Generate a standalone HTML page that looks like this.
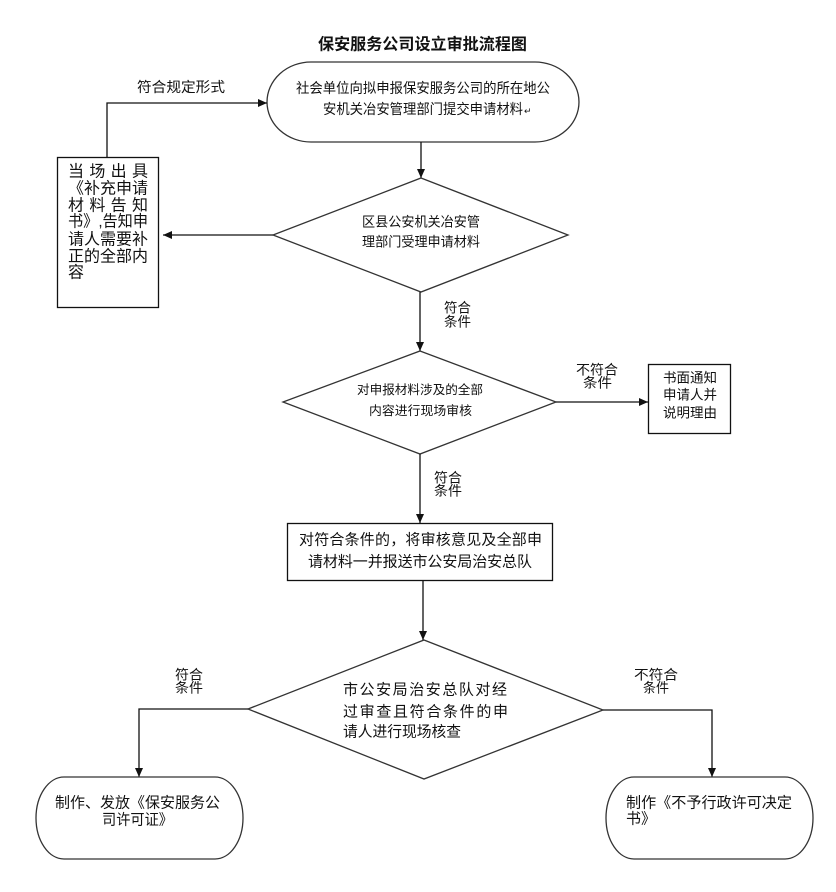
<!DOCTYPE html>
<html><head><meta charset="utf-8"><style>
html,body{margin:0;padding:0;background:#fff;}
svg{display:block;}
text{font-family:"Liberation Sans","Noto Sans CJK SC","WenQuanYi Zen Hei",sans-serif;fill:#111;dominant-baseline:central;}
</style></head><body>
<svg width="836" height="892" viewBox="0 0 836 892" xmlns="http://www.w3.org/2000/svg">
<defs>
<marker id="ar" markerWidth="10" markerHeight="10" refX="9" refY="5" orient="auto" markerUnits="userSpaceOnUse">
<path d="M0,1 L9,5 L0,9 Z" fill="#111"/>
</marker>
</defs>
<rect width="836" height="892" fill="#fff"/>

<!-- Title -->
<text x="318" y="45" font-size="16" font-weight="bold" textLength="209" lengthAdjust="spacingAndGlyphs">保安服务公司设立审批流程图</text>

<!-- Top stadium -->
<path d="M311,62 L535,62 A44,40 0 0 1 535,142 L311,142 A44,40 0 0 1 311,62 Z" fill="none" stroke="#333" stroke-width="1.3"/>
<text x="296" y="88" font-size="14" textLength="254" lengthAdjust="spacingAndGlyphs">社会单位向拟申报保安服务公司的所在地公</text>
<text x="323" y="109" font-size="14" textLength="200" lengthAdjust="spacingAndGlyphs">安机关冶安管理部门提交申请材料</text>
<text x="524" y="111" font-size="9" fill="#999">↵</text>

<!-- arrow top box -> diamond1 -->
<line x1="421" y1="142" x2="421" y2="178" stroke="#111" stroke-width="1.3" marker-end="url(#ar)"/>

<!-- Diamond 1 -->
<polygon points="421,178 568,235 421,292 273,235" fill="none" stroke="#333" stroke-width="1.3"/>
<text x="362" y="222" font-size="13.5" textLength="118" lengthAdjust="spacingAndGlyphs">区县公安机关冶安管</text>
<text x="362" y="242" font-size="13.5" textLength="118" lengthAdjust="spacingAndGlyphs">理部门受理申请材料</text>

<!-- arrow diamond1 -> left box -->
<line x1="273" y1="235" x2="163" y2="235" stroke="#111" stroke-width="1.3" marker-end="url(#ar)"/>

<!-- Left box -->
<rect x="57.5" y="157.5" width="101" height="150" fill="none" stroke="#111" stroke-width="1.3"/>
<text x="68" y="172" font-size="16" textLength="80" lengthAdjust="spacing">当场出具</text>
<text x="68" y="189" font-size="16" textLength="80" lengthAdjust="spacing">《补充申请</text>
<text x="68" y="206" font-size="16" textLength="80" lengthAdjust="spacing">材料告知</text>
<text x="68" y="222" font-size="16" textLength="80" lengthAdjust="spacingAndGlyphs">书》,告知申</text>
<text x="68" y="240" font-size="16" textLength="80" lengthAdjust="spacing">请人需要补</text>
<text x="68" y="257" font-size="16" textLength="80" lengthAdjust="spacing">正的全部内</text>
<text x="68" y="273" font-size="16">容</text>

<!-- left box -> top box -->
<polyline points="107,157 107,103 267,103" fill="none" stroke="#111" stroke-width="1.3" marker-end="url(#ar)"/>
<text x="137" y="87" font-size="14" textLength="88" lengthAdjust="spacingAndGlyphs">符合规定形式</text>

<!-- diamond1 -> diamond2 -->
<line x1="420" y1="292" x2="420" y2="351" stroke="#111" stroke-width="1.3" marker-end="url(#ar)"/>
<text x="444" y="308" font-size="13.5" textLength="27" lengthAdjust="spacingAndGlyphs">符合</text>
<text x="444" y="322" font-size="13.5" textLength="27" lengthAdjust="spacingAndGlyphs">条件</text>

<!-- Diamond 2 -->
<polygon points="420,351 556,402 420,454 283,402" fill="none" stroke="#333" stroke-width="1.3"/>
<text x="357" y="390" font-size="12.5" textLength="126" lengthAdjust="spacingAndGlyphs">对申报材料涉及的全部</text>
<text x="369" y="411" font-size="12.5" textLength="103" lengthAdjust="spacingAndGlyphs">内容进行现场审核</text>

<!-- diamond2 -> right box -->
<line x1="556" y1="402" x2="648" y2="402" stroke="#111" stroke-width="1.3" marker-end="url(#ar)"/>
<text x="576" y="370" font-size="13.5" textLength="42" lengthAdjust="spacingAndGlyphs">不符合</text>
<text x="583" y="383" font-size="13.5" textLength="29" lengthAdjust="spacingAndGlyphs">条件</text>

<!-- Right box -->
<rect x="648.5" y="364.5" width="82" height="69" fill="none" stroke="#111" stroke-width="1.3"/>
<text x="663" y="378" font-size="13.5" textLength="54" lengthAdjust="spacingAndGlyphs">书面通知</text>
<text x="663" y="395" font-size="13.5" textLength="54" lengthAdjust="spacingAndGlyphs">申请人并</text>
<text x="663" y="413" font-size="13.5" textLength="54" lengthAdjust="spacingAndGlyphs">说明理由</text>

<!-- diamond2 -> box3 -->
<line x1="420" y1="454" x2="420" y2="523" stroke="#111" stroke-width="1.3" marker-end="url(#ar)"/>
<text x="434" y="478" font-size="13.5" textLength="28" lengthAdjust="spacingAndGlyphs">符合</text>
<text x="434" y="491" font-size="13.5" textLength="28" lengthAdjust="spacingAndGlyphs">条件</text>

<!-- Box 3 -->
<rect x="287.5" y="523.5" width="265" height="57" fill="none" stroke="#111" stroke-width="1.3"/>
<text x="299" y="540" font-size="15" textLength="243" lengthAdjust="spacing">对符合条件的，将审核意见及全部申</text>
<text x="308" y="562" font-size="15" textLength="224" lengthAdjust="spacing">请材料一并报送市公安局治安总队</text>

<!-- box3 -> diamond3 -->
<line x1="423" y1="581" x2="423" y2="640" stroke="#111" stroke-width="1.3" marker-end="url(#ar)"/>

<!-- Diamond 3 -->
<polygon points="424,640 603,710 424,779 248,709" fill="none" stroke="#333" stroke-width="1.3"/>
<text x="343" y="690" font-size="15" textLength="164" lengthAdjust="spacing">市公安局治安总队对经</text>
<text x="343" y="712" font-size="15" textLength="165" lengthAdjust="spacing">过审查且符合条件的申</text>
<text x="343" y="732" font-size="15" textLength="118" lengthAdjust="spacingAndGlyphs">请人进行现场核查</text>

<!-- diamond3 -> left bottom -->
<polyline points="248,709 139,709 139,777" fill="none" stroke="#111" stroke-width="1.3" marker-end="url(#ar)"/>
<text x="175" y="675" font-size="13.5" textLength="28" lengthAdjust="spacingAndGlyphs">符合</text>
<text x="175" y="688" font-size="13.5" textLength="28" lengthAdjust="spacingAndGlyphs">条件</text>

<!-- diamond3 -> right bottom -->
<polyline points="603,710 712,710 712,777" fill="none" stroke="#111" stroke-width="1.3" marker-end="url(#ar)"/>
<text x="634" y="675" font-size="13.5" textLength="44" lengthAdjust="spacingAndGlyphs">不符合</text>
<text x="643" y="688" font-size="13.5" textLength="26" lengthAdjust="spacingAndGlyphs">条件</text>

<!-- Bottom left stadium -->
<path d="M64,777 L215,777 A28,41 0 0 1 215,859 L64,859 A28,41 0 0 1 64,777 Z" fill="none" stroke="#333" stroke-width="1.3"/>
<text x="55" y="803" font-size="15" textLength="165" lengthAdjust="spacingAndGlyphs">制作、发放《保安服务公</text>
<text x="102" y="820" font-size="15" textLength="71" lengthAdjust="spacingAndGlyphs">司许可证》</text>

<!-- Bottom right stadium -->
<path d="M634,777 L785,777 A28,41 0 0 1 785,859 L634,859 A28,41 0 0 1 634,777 Z" fill="none" stroke="#333" stroke-width="1.3"/>
<text x="626" y="803" font-size="15" textLength="166" lengthAdjust="spacingAndGlyphs">制作《不予行政许可决定</text>
<text x="626" y="819" font-size="15" textLength="30" lengthAdjust="spacingAndGlyphs">书》</text>
</svg>
</body></html>
